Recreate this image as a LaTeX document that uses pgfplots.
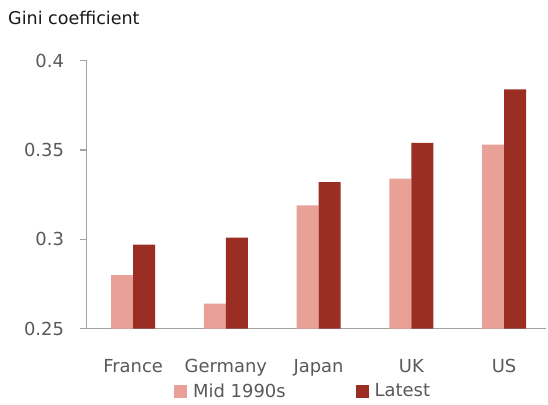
\documentclass[border=0pt]{standalone}
\usepackage{fontspec}
\setmainfont{DejaVu Sans}
\usepackage{pgfplots}
\pgfplotsset{compat=1.18}

\definecolor{midc}{HTML}{E8A097}
\definecolor{latc}{HTML}{9B2E23}
\definecolor{axc}{HTML}{A3A3A3}
\definecolor{txt}{HTML}{595959}

% Gini coefficients, mid 1990s and latest year
\pgfplotstableread{
x  mid    latest
0  0.280  0.297
1  0.264  0.301
2  0.319  0.332
3  0.334  0.354
4  0.353  0.384
}\gini

\begin{document}
\begin{tikzpicture}[x=1bp,y=1bp]
\useasboundingbox (0,0) rectangle (548,404);
\node[anchor=base west, inner sep=0pt, text=black!90,
      font=\fontsize{17.6}{20}\selectfont] at (8,380) {Gini coefficient};
\begin{axis}[
  at={(86.7bp,75.3bp)}, anchor=south west,
  scale only axis, width=459.3bp, height=268bp,
  xmin=-0.5, xmax=4.452,
  ymin=0.25, ymax=0.4,
  ytick={0.25,0.3,0.35,0.4},
  xtick={0,1,2,3,4},
  xticklabels={France,Germany,Japan,UK,US},
  axis x line*=bottom, axis y line*=left,
  axis line style={draw=axc, line width=1.5bp},
  y axis line style={-}, x axis line style={-},
  ytick align=outside,
  major tick length=7bp,
  ytick style={draw=axc, line width=1.5bp},
  xtick style={draw=none},
  /pgf/number format/assume math mode=true,
  ticklabel style={font=\fontsize{18}{21}\selectfont, text=txt},
  yticklabel style={anchor=east, inner sep=0pt, xshift=-15.5bp},
  xticklabel style={anchor=base, inner sep=0pt, yshift=-36.3bp},
  yticklabel={\pgfmathprintnumber[fixed, precision=2]{\tick}},
  ybar=0pt, bar width=22bp,
  legend columns=2,
  legend style={draw=none, fill=none, inner sep=0pt,
    at={(rel axis cs:0.19,-0.2325)}, anchor=west,
    nodes={inner sep=0pt},
    font=\fontsize{18}{21}\selectfont, text=txt,
    /tikz/every odd column/.style={column sep=6bp},
    /tikz/every even column/.style={column sep=70bp}},
  legend image code/.code={\fill[#1] (0bp,-6.5bp) rectangle (13bp,6.5bp);},
]
\addplot[fill=midc, draw=none] table[x=x, y=mid] {\gini};
\addplot[fill=latc, draw=none] table[x=x, y=latest] {\gini};
\legend{Mid 1990s, Latest}
\end{axis}
\end{tikzpicture}
\end{document}
